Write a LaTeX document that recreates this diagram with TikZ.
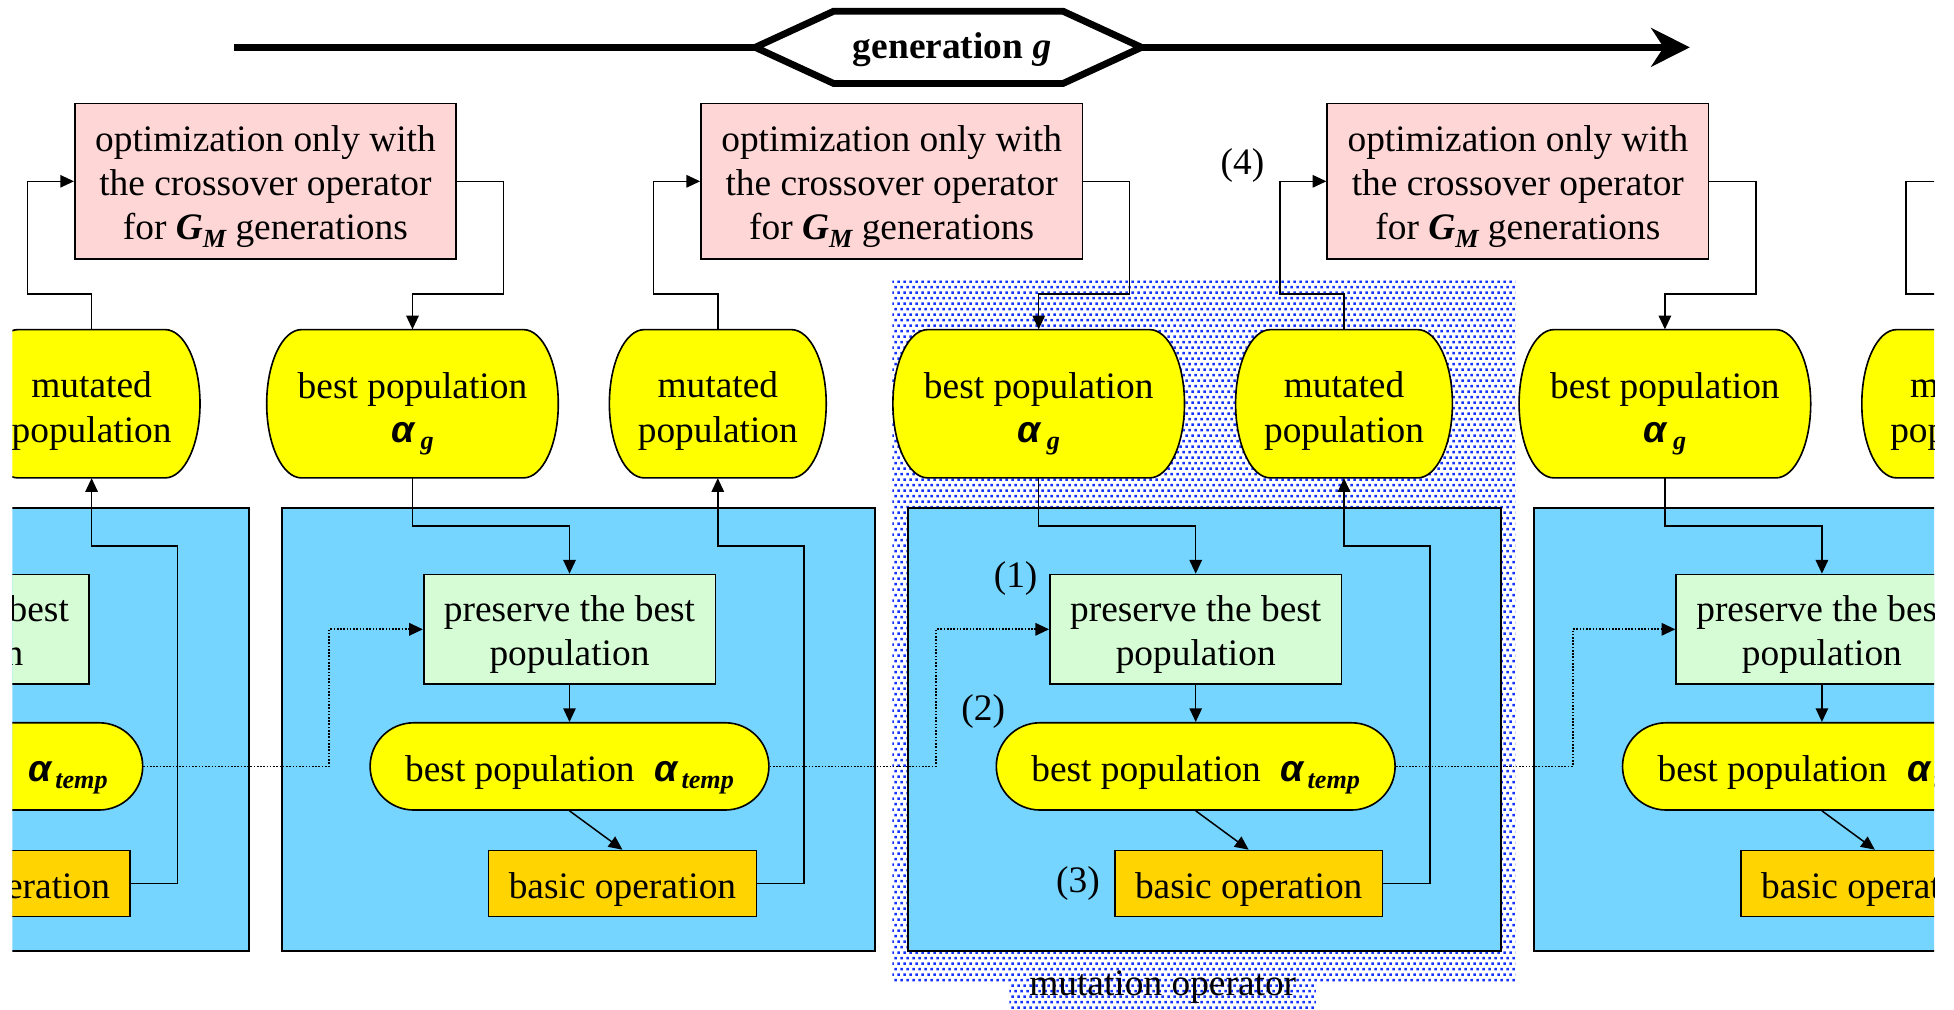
\documentclass[tikz,border=0pt]{standalone}
\usepackage{fontspec}
\setmainfont{Liberation Serif}
\newfontfamily\alfont{Liberation Sans}
\usetikzlibrary{arrows.meta,shapes.misc,patterns}

\definecolor{pinkc}{RGB}{255,214,214}
\definecolor{greenc}{RGB}{214,252,214}
\definecolor{yellowc}{RGB}{255,255,0}
\definecolor{orangec}{RGB}{255,212,0}
\definecolor{bluec}{RGB}{118,213,255}
\definecolor{dotc}{RGB}{20,50,255}

% staggered square dots for the mutation-operator region
\pgfdeclarepatternformonly{mutdots}{\pgfqpoint{0pt}{0pt}}{\pgfqpoint{4.8pt}{8.8pt}}{\pgfqpoint{4.8pt}{8.8pt}}{%
  \pgfpathrectangle{\pgfqpoint{0.3pt}{0.9pt}}{\pgfqpoint{2pt}{2pt}}%
  \pgfpathrectangle{\pgfqpoint{2.7pt}{5.3pt}}{\pgfqpoint{2pt}{2pt}}%
  \pgfusepath{fill}}

\newcommand\alp{{\alfont\bfseries\itshape α}}
\newcommand\lowsub[1]{\raisebox{-6pt}[0pt][0pt]{\fontsize{21}{21}\selectfont\bfseries\itshape #1}}
% tall first-line strut so the text sits like in a slide text frame
\newcommand\tstrut[1][30.5pt]{\rule{0pt}{#1}}
% population shape: flat top and bottom, elliptic sides (x, y, width)
\newcommand\popshape[3]{%
  \filldraw[popline] ({#1-#3/2+28},{#2-59.5}) -- ({#1+#3/2-28},{#2-59.5})
    arc[start angle=-90,end angle=90,x radius=28,y radius=59.5]
    -- ({#1-#3/2+28},{#2+59.5})
    arc[start angle=90,end angle=270,x radius=28,y radius=59.5] -- cycle;}

\begin{document}
\begin{tikzpicture}[x=1pt,y=-1pt,
  every node/.style={font=\fontsize{30}{35.5}\selectfont, inner sep=0pt, align=center},
  boxline/.style={draw=black, line width=1.3pt},
  popline/.style={boxline, fill=yellowc},
  poptext/.style={minimum height=119pt},
  pinkbox/.style={boxline, fill=pinkc, minimum width=306pt, minimum height=125pt},
  keepbox/.style={boxline, fill=greenc, minimum width=234pt, minimum height=88pt},
  tempbox/.style={boxline, fill=yellowc, rounded rectangle, minimum width=320pt, minimum height=70pt},
  basicbox/.style={boxline, fill=orangec, minimum width=215pt, minimum height=53pt},
  blockbox/.style={draw=black, line width=1.6pt, fill=bluec, minimum width=476pt, minimum height=355pt},
  conn/.style={draw=black, line width=1.2pt, -{Triangle[length=11pt,width=10pt]}},
  dotconn/.style={conn, line width=1.4pt, dash pattern=on 1.3pt off 1.3pt},
  timeline/.style={line width=5.5pt, -{Stealth[length=31pt,width=31pt,inset=10pt]}},
]
\useasboundingbox (0,0) rectangle (1568,810);

% generation axis
\coordinate (gs) at (188,38);
\coordinate (ge) at (1356,38);
\draw[timeline] (gs) -- (ge);
\filldraw[fill=white, draw=black, line width=5.5pt, line join=miter]
  (606,38) -- (669,9) -- (853,9) -- (916,38) -- (853,67) -- (669,67) -- cycle;
\node[anchor=base] (gen) at (764,47) {\textbf{generation \textit{g}}};

\begin{scope}
\clip (10,0) rectangle (1552,810);

% mutation operator region
\fill[pattern=mutdots, pattern color=dotc]
  (716,225) -- (1216,225) -- (1216,788) -- (1056,788) -- (1056,812)
  -- (810,812) -- (810,788) -- (716,788) -- cycle;

% blocks
\foreach \i in {0,...,4}{
  \pgfmathsetmacro\o{(\i-1)*502.5}
  \node[blockbox] (blk\i) at ({464+\o},585.5) {};
}

% populations and operations
\foreach \i in {0,...,4}{
  \pgfmathsetmacro\o{(\i-1)*502.5}
  \pgfmathsetmacro\mx{73.5+\o}
  \pgfmathsetmacro\bx{331+\o}
  \popshape{\mx}{324}{174}
  \node[poptext, minimum width=174pt] (mu\i) at (\mx,324) {\tstrut[32.5pt]mutated\\population};
  \popshape{\bx}{324}{234}
  \node[poptext, minimum width=234pt] (bp\i) at (\bx,324) {\tstrut[27pt]best population\\\alp\hspace{5pt}\lowsub{g}};
  \node[pinkbox] (pk\i) at ({213+\o},145.5) {\tstrut[29.5pt]optimization only with\\the crossover operator\\for \textbf{\textit{G}}\lowsub{M} generations};
  \node[keepbox] (pr\i) at ({457+\o},505) {\tstrut[29.5pt]preserve the best\\population};
  \node[tempbox] (tp\i) at ({457+\o},615) {\tstrut best population\hspace{16pt}\alp\hspace{3pt}\lowsub{temp}};
  \node[basicbox] (bo\i) at ({499.5+\o},709) {\tstrut basic operation};
}

% connectors
\foreach \i in {0,...,4}{
  \pgfmathsetmacro\o{(\i-1)*502.5}
  \draw[conn] (mu\i.north) |- ({22+\o},236) |- (pk\i.west);
  \draw[conn] (pk\i.east) -| ({404+\o},236) -| (bp\i.north);
  \draw[conn] (bp\i.south) -- ({331+\o},422) -| (pr\i.north);
  \draw[conn] (pr\i.south) -- (tp\i.north);
  \draw[conn] (tp\i.south) -- (bo\i.north);
}
\foreach \i in {0,...,3}{
  \pgfmathsetmacro\o{(\i-1)*502.5}
  \pgfmathtruncatemacro\k{\i+1}
  \draw[conn] (bo\i.east) -| ({645+\o},438) -| (mu\k.south);
}
\foreach \i/\v in {0/264,1/751,2/1262}{
  \pgfmathtruncatemacro\k{\i+1}
  \draw[dotconn] (tp\i.east) -| (\v,505) -- (pr\k.west);
}

% step labels
\node (lab1) at (815,464) {(1)};
\node (lab2) at (789,571) {(2)};
\node (lab3) at (865,709) {(3)};
\node (lab4) at (997,133) {(4)};
\node[anchor=base] (mutop) at (933,798.5) {mutation operator};
\end{scope}
\end{tikzpicture}
\end{document}
